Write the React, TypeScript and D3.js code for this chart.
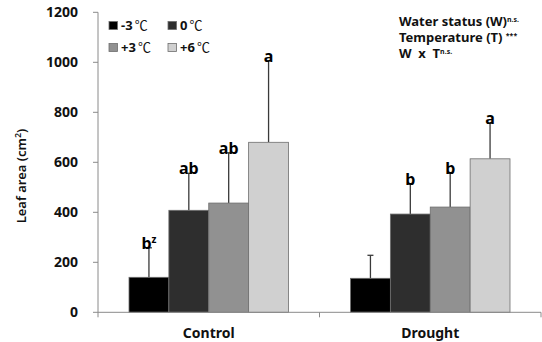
import React, { useEffect } from "react";
import * as d3 from "d3";

const groups = ["Control", "Drought"];
const temps = ["-3", "0", "+3", "+6"];
const colors = ["#000000", "#2e2e2e", "#919191", "#d0d0d0"];

// means and upper error bar ends, per temperature, for Control then Drought
const controlMeans = [140, 408, 437, 680];
const controlErrTop = [258, 556, 638, 1006];
const droughtMeans = [136, 393, 421, 614];
const droughtErrTop = [228, 513, 556, 756];

const controlLetters = [["b", "z"], ["ab", ""], ["ab", ""], ["a", ""]];
const droughtLetters = [["", ""], ["b", ""], ["b", ""], ["a", ""]];

const yTicks = [0, 200, 400, 600, 800, 1000, 1200];

const font = "'Noto Sans', 'DejaVu Sans', sans-serif";
const cjk = "'Noto Sans CJK KR', 'Noto Sans', sans-serif";

export default function App() {
  useEffect(() => {
    document.body.style.margin = "0";
  }, []);

  const width = 542;
  const height = 342;
  const margin = { top: 12.3, right: 1, bottom: 29.7, left: 98 };
  const innerW = width - margin.left - margin.right;
  const innerH = height - margin.top - margin.bottom;

  const x0 = d3.scaleBand().domain(groups).range([0, innerW]).padding(0);
  const x1 = d3
    .scaleBand()
    .domain(temps)
    .range([31, x0.bandwidth() - 31])
    .padding(0);
  const y = d3.scaleLinear().domain([0, 1200]).range([innerH, 0]);

  const data = groups.map((g, gi) =>
    temps.map((t, ti) => ({
      group: g,
      temp: t,
      mean: gi === 0 ? controlMeans[ti] : droughtMeans[ti],
      err: gi === 0 ? controlErrTop[ti] : droughtErrTop[ti],
      letter: gi === 0 ? controlLetters[ti] : droughtLetters[ti],
      color: colors[ti],
    }))
  );

  const axisColor = "#8a8a8a";

  return (
    <svg width={width} height={height} style={{ display: "block", background: "#fff" }}>
      <g transform={`translate(${margin.left},${margin.top})`}>
        {/* bars */}
        {data.flat().map((d, i) => {
          const bx = (x0(d.group) as number) + (x1(d.temp) as number);
          const bw = x1.bandwidth();
          const cx = bx + bw / 2;
          return (
            <g key={i}>
              <line x1={cx} x2={cx} y1={y(d.mean)} y2={y(d.err)} stroke="#3a3a3a" strokeWidth={1.3} />
              <line x1={cx - 3} x2={cx + 3} y1={y(d.err)} y2={y(d.err)} stroke="#3a3a3a" strokeWidth={1.3} />
              <rect
                x={bx}
                y={y(d.mean)}
                width={bw}
                height={innerH - y(d.mean)}
                fill={d.color}
                stroke="#6e6e6e"
                strokeWidth={0.8}
              />
              {d.letter[0] && (
                <text
                  x={cx}
                  y={y(d.err) + 1}
                  textAnchor="middle"
                  fontFamily={font}
                  fontWeight="bold"
                  fontSize={16}
                  fill="#000"
                >
                  {d.letter[0]}
                  {d.letter[1] && (
                    <tspan fontSize={10} dy={-6}>
                      {d.letter[1]}
                    </tspan>
                  )}
                </text>
              )}
            </g>
          );
        })}

        {/* y axis */}
        <line x1={0} x2={0} y1={0} y2={innerH} stroke={axisColor} strokeWidth={1} />
        {yTicks.map((t) => (
          <g key={t} transform={`translate(0,${y(t)})`}>
            <line x1={-5} x2={0} stroke={axisColor} />
            <text
              x={-20}
              dy="0.35em"
              textAnchor="end"
              fontFamily={font}
              fontWeight="bold"
              fontSize={14}
              fill="#111"
            >
              {t}
            </text>
          </g>
        ))}

        {/* x axis */}
        <line x1={0} x2={innerW} y1={innerH} y2={innerH} stroke={axisColor} strokeWidth={1} />
        {[0, x0.bandwidth(), innerW].map((px, i) => (
          <line key={i} x1={px} x2={px} y1={innerH} y2={innerH + 5} stroke={axisColor} />
        ))}
        {groups.map((g) => (
          <text
            key={g}
            x={(x0(g) as number) + x0.bandwidth() / 2}
            y={innerH + 26}
            textAnchor="middle"
            fontFamily={font}
            fontWeight="bold"
            fontSize={14}
            fill="#111"
          >
            {g}
          </text>
        ))}

        {/* y label */}
        <text
          transform={`translate(${26 - margin.left},${176 - margin.top}) rotate(-90)`}
          textAnchor="middle"
          fontFamily={font}
          fontWeight={600}
          fontSize={13}
          fill="#111"
        >
          Leaf area (cm
          <tspan fontSize={9} dy={-5}>2</tspan>
          <tspan dy={5}>)</tspan>
        </text>
      </g>

      {/* legend */}
      {temps.map((t, i) => {
        const lx = i % 2 === 0 ? 109 : 168;
        const ly = i < 2 ? 21.5 : 43.5;
        return (
          <g key={t} transform={`translate(${lx},${ly})`}>
            <rect width={8.5} height={8} fill={colors[i]} stroke="#6e6e6e" strokeWidth={0.8} />
            <text x={12} y={8.5} fontFamily={font} fontWeight="bold" fontSize={13} fill="#111">
              {t + "\u2009"}
              <tspan fontFamily={cjk} fontWeight="normal" fontSize={13}>
                {"\u2103"}
              </tspan>
            </text>
          </g>
        );
      })}

      {/* significance notes */}
      <g fontFamily={font} fontWeight="bold" fontSize={13} fill="#111">
        <text x={399} y={26}>
          Water status (W)
          <tspan fontSize={7} dy={-4}>n.s.</tspan>
        </text>
        <text x={399} y={42}>
          {"Temperature (T)\u00a0"}
          <tspan fontSize={7} dy={-4}>***</tspan>
        </text>
        <text x={399} y={58}>
          {"W\u00a0\u00a0x\u00a0\u00a0T"}
          <tspan fontSize={7} dy={-4}>n.s.</tspan>
        </text>
      </g>
    </svg>
  );
}
